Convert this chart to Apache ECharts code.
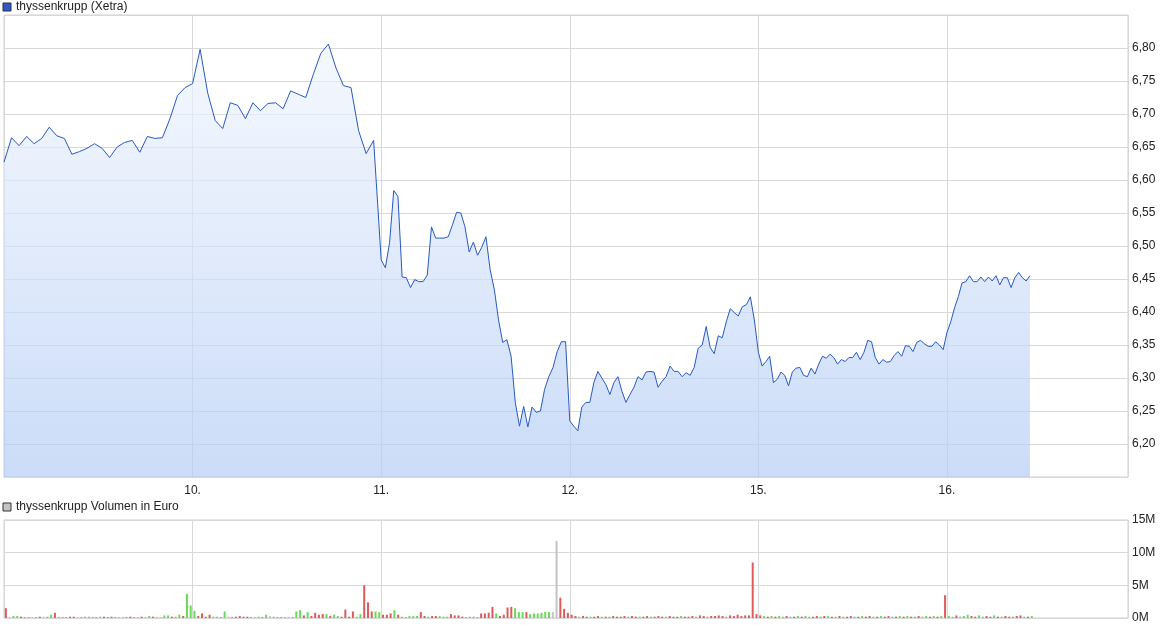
<!DOCTYPE html>
<html><head><meta charset="utf-8">
<script src="https://cdn.jsdelivr.net/npm/echarts@6/dist/echarts.min.js"></script>
<style>html,body{margin:0;padding:0;background:#fff}#c{width:1175px;height:630px}</style>
</head><body><div id="c"></div>
<script>
const dayLabels = ['9.', '10.', '11.', '12.', '15.', '16.'];
const day09 = [6.627,6.664,6.652,6.666,6.655,6.663,6.68,6.667,6.663,6.639,6.643,6.648,6.655,6.648,6.634,6.65,6.657,6.66,6.642,6.666,6.663,6.664,6.693,6.728,6.74];
const day10 = [6.746,6.798,6.732,6.69,6.678,6.717,6.713,6.693,6.717,6.705,6.716,6.717,6.708,6.735,6.73,6.725,6.76,6.792,6.806,6.77,6.743,6.74,6.675,6.64,6.66];
const day11 = [6.479,6.467,6.505,6.584,6.575,6.453,6.452,6.437,6.449,6.446,6.446,6.456,6.529,6.512,6.512,6.512,6.514,6.532,6.551,6.55,6.529,6.491,6.506,6.486,6.498,6.514,6.464,6.434,6.388,6.354,6.358,6.333,6.263,6.227,6.257,6.226,6.256,6.248,6.25,6.283,6.302,6.316,6.34,6.355,6.355];
const day12 = [6.235,6.227,6.22,6.256,6.263,6.263,6.293,6.31,6.30,6.29,6.275,6.293,6.302,6.28,6.263,6.275,6.286,6.302,6.297,6.309,6.31,6.309,6.286,6.295,6.302,6.318,6.31,6.31,6.302,6.308,6.304,6.316,6.345,6.35,6.378,6.346,6.337,6.364,6.361,6.385,6.405,6.399,6.394,6.408,6.411,6.423,6.388];
const day15 = [6.339,6.318,6.325,6.333,6.293,6.298,6.309,6.304,6.288,6.309,6.315,6.316,6.304,6.302,6.315,6.306,6.321,6.333,6.33,6.336,6.331,6.321,6.328,6.325,6.331,6.331,6.339,6.328,6.339,6.357,6.355,6.331,6.321,6.328,6.324,6.325,6.334,6.34,6.333,6.349,6.348,6.34,6.354,6.357,6.352,6.348,6.348,6.355,6.35,6.343];
const day16 = [6.369,6.385,6.406,6.423,6.444,6.446,6.455,6.446,6.446,6.453,6.446,6.453,6.447,6.455,6.441,6.452,6.452,6.437,6.452,6.46,6.452,6.447,6.455];
const priceDays = [day09, day10, day11, day12, day15, day16];
const day16Slots = 50;

// volume in million euro; colour codes: g up, r down, n unchanged
const vol09 = [1.5,0.1,0.3,0.3,0.2,0.1,0.1,0.1,0.1,0.2,0.2,0.2,0.5,0.8,0.1,0.1,0.1,0.2,0.2,0.1,0.1,0.2,0.2,0.1,0.1,0.2,0.2,0.1,0.2,0.1,0.1,0.1,0.1,0.2,0.1,0.1,0.2,0.1,0.3,0.2,0.1,0.1,0.4,0.4,0.2,0.2,0.5,0.3,3.7,1.9];
const col09 = 'rgggrrrgrr nggrrrrrrn rggrrgrrrr ggrrrgrggr ggggrggrgg';
const vol10 = [1.1,0.3,0.7,0.2,0.5,0.2,0.2,0.1,1.0,0.2,0.1,0.2,0.3,0.2,0.2,0.1,0.1,0.2,0.1,0.5,0.3,0.2,0.1,0.1,0.1,0.1,0.1,1.0,1.2,0.4,0.9,0.3,0.8,0.5,0.6,0.6,0.3,0.5,0.3,0.2,1.3,0.2,1.0,0.2,0.6,5.0,2.4,1.0,1.0,0.9];
const col10 = 'grrrrggrgn rrrrrrggrg ngrrggrggr grrrrgrggr rrrggrrrgg';
const vol11 = [0.5,0.5,0.7,1.2,0.5,0.2,0.1,0.3,0.3,0.3,0.9,0.3,0.2,0.3,0.3,0.3,0.2,0.2,0.6,0.4,0.4,0.2,0.1,0.2,0.2,0.1,0.7,0.7,0.8,1.7,0.7,0.3,0.5,1.6,1.7,1.5,0.9,0.9,0.9,0.6,0.7,0.7,0.8,0.9,0.9,0.9,11.8,3.1,1.4,0.8];
const col11 = 'rrrgrgrggg rrgrrgggrr rrrggrrrrr grrrrgggrg gggggnnrrr';
const vol12 = [0.5,0.3,0.2,0.3,0.2,0.2,0.2,0.3,0.2,0.2,0.2,0.3,0.2,0.2,0.3,0.2,0.3,0.2,0.2,0.2,0.3,0.2,0.2,0.3,0.2,0.2,0.3,0.2,0.2,0.3,0.2,0.2,0.3,0.2,0.4,0.3,0.2,0.3,0.3,0.4,0.3,0.2,0.4,0.3,0.5,0.3,0.4,0.4,8.5,0.6];
const col12 = 'rrgrrgrrgr grrrrgrrgr rgrrrgrrrg rrrgrrgrrr rgrrrrrrrr';
const vol15 = [0.4,0.3,0.2,0.3,0.2,0.3,0.2,0.3,0.2,0.2,0.3,0.2,0.3,0.2,0.2,0.3,0.2,0.3,0.3,0.2,0.2,0.3,0.2,0.2,0.3,0.2,0.2,0.3,0.2,0.3,0.2,0.2,0.3,0.2,0.3,0.2,0.2,0.3,0.2,0.3,0.2,0.2,0.3,0.2,0.3,0.2,0.3,0.2,0.3,3.5];
const col15 = 'rgrgrggrgr grggrrgrgr grgrrgrgrr grgrrgrgrg rgrggrgrgr';
const vol16 = [0.3,0.2,0.4,0.2,0.3,0.5,0.3,0.2,0.4,0.2,0.3,0.2,0.4,0.2,0.2,0.3,0.2,0.2,0.3,0.4,0.2,0.2,0.3];
const col16 = 'ggrgggrrgg rrgrgrrgrrg rg';
const volDays = [[vol09,col09],[vol10,col10],[vol11,col11],[vol12,col12],[vol15,col15],[vol16,col16]];

const priceData = [];
priceDays.forEach((vals, d) => {
  const step = d === 5 ? 1 / day16Slots : 1 / vals.length;
  vals.forEach((v, i) => priceData.push([d + i * step, v]));
});
const colorMap = { g: '#66dd55', r: '#e05a5a', n: '#c4c4c4' };
const volData = [];
volDays.forEach(([vals, colStr], d) => {
  const cols = colStr.replace(/\s/g, '');
  const step = d === 5 ? 1 / day16Slots : 1 / vals.length;
  vals.forEach((v, i) => volData.push({ value: [d + i * step + 0.01, v], itemStyle: { color: colorMap[cols[i]] || '#c4c4c4' } }));
});

const font = 'Liberation Sans, Arial, sans-serif';
const xCommon = {
  type: 'value', min: 0, max: 5.96, interval: 1,
  axisLine: { show: false }, axisTick: { show: false },
  splitLine: { show: true, lineStyle: { color: '#d8d8d8' } }
};
const chart = echarts.init(document.getElementById('c'));
chart.setOption({
  animation: false,
  textStyle: { fontFamily: font },
  graphic: [
    { type: 'rect', shape: { x: 3, y: 3, width: 8, height: 8 }, style: { fill: '#2a5bc8', stroke: '#333', lineWidth: 1 } },
    { type: 'text', left: 16, top: 1, style: { text: 'thyssenkrupp (Xetra)', font: '12px ' + font, fill: '#222' } },
    { type: 'rect', shape: { x: 3, y: 503, width: 8, height: 8 }, style: { fill: '#c4c4c4', stroke: '#333', lineWidth: 1 } },
    { type: 'text', left: 16, top: 501, style: { text: 'thyssenkrupp Volumen in Euro', font: '12px ' + font, fill: '#222' } }
  ],
  grid: [
    { left: 4, right: 47, top: 15, bottom: 153, show: true, borderColor: '#cfcfcf', borderWidth: 1 },
    { left: 4, right: 47, top: 520, bottom: 12, show: true, borderColor: '#cfcfcf', borderWidth: 1 }
  ],
  xAxis: [
    Object.assign({ gridIndex: 0, axisLabel: { color: '#222', fontSize: 12, margin: 8, formatter: v => (v >= 1 && v <= 5 && Number.isInteger(v)) ? dayLabels[v] : '' } }, xCommon),
    Object.assign({ gridIndex: 1, axisLabel: { show: false } }, xCommon)
  ],
  yAxis: [
    { gridIndex: 0, type: 'value', position: 'right', min: 6.15, max: 6.85, interval: 0.05,
      axisLine: { show: false }, axisTick: { show: false },
      splitLine: { lineStyle: { color: '#d8d8d8' } },
      axisLabel: { color: '#222', fontSize: 12, margin: 4, formatter: v => (v < 6.17 || v > 6.83) ? '' : v.toFixed(2).replace('.', ',') } },
    { gridIndex: 1, type: 'value', position: 'right', min: 0, max: 15, interval: 5,
      axisLine: { show: false }, axisTick: { show: false },
      splitLine: { lineStyle: { color: '#d8d8d8' } },
      axisLabel: { color: '#222', fontSize: 12, margin: 4, formatter: v => v + 'M' } }
  ],
  series: [
    { type: 'line', xAxisIndex: 0, yAxisIndex: 0, data: priceData, showSymbol: false,
      lineStyle: { color: '#2659c4', width: 1 },
      areaStyle: { origin: 'start', color: new echarts.graphic.LinearGradient(0, 0, 0, 1, [
        { offset: 0, color: 'rgba(240,245,253,1)' }, { offset: 1, color: 'rgba(180,204,245,1)' }]) } },
    { type: 'bar', xAxisIndex: 1, yAxisIndex: 1, data: volData, barWidth: 2 }
  ]
});
</script></body></html>
